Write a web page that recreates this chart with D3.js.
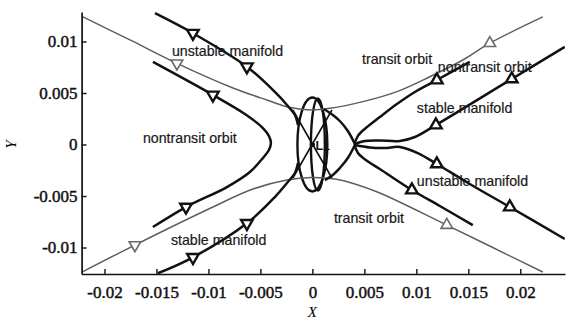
<!DOCTYPE html>
<html>
<head>
<meta charset="utf-8">
<script src="https://cdn.jsdelivr.net/npm/d3@7"></script>
<style>
  html, body { margin: 0; padding: 0; background: #fff; }
  svg { display: block; }
</style>
</head>
<body>
<svg id="chart" width="569" height="321"></svg>
<script>
// ---------- data (X, Y in normalized units) ----------
const xTicks = [-0.02, -0.015, -0.01, -0.005, 0, 0.005, 0.01, 0.015, 0.02];
const xTickLabels = ["-0.02", "-0.015", "-0.01", "-0.005", "0", "0.005", "0.01", "0.015", "0.02"];
const yTicks = [-0.01, -0.005, 0, 0.005, 0.01];
const yTickLabels = ["-0.01", "-0.005", "0", "0.005", "0.01"];

// transit orbits (gray)
const transitUpper = [[-0.02216,0.01243],[-0.01755,0.01015],[-0.01303,0.00788],[-0.00764,0.00549],[-0.00438,0.00432],[-0.00216,0.00359],[-0.00005,0.00335],[0.00168,0.00351],[0.00486,0.00416],[0.00813,0.00513],[0.01130,0.00658],[0.01447,0.00820],[0.01707,0.00983],[0.02216,0.01238]];
const transitLower = [[-0.02216,-0.01238],[-0.01707,-0.00976],[-0.00957,-0.00607],[-0.00572,-0.00432],[-0.00245,-0.00345],[-0.00005,-0.00320],[0.00216,-0.00335],[0.00409,-0.00383],[0.00649,-0.00471],[0.01293,-0.00782],[0.02216,-0.01238]];

// left side manifolds and nontransit orbit (black)
const unstableLeft = [[-0.01514,0.01274],[-0.01149,0.01080],[-0.00630,0.00755],[-0.00361,0.00510],[-0.00236,0.00374],[-0.00168,0.00286],[-0.00139,0.00189]];
const stableLeft = [[-0.01486,-0.01250],[-0.01149,-0.01095],[-0.00630,-0.00765],[-0.00361,-0.00510],[-0.00236,-0.00364],[-0.00168,-0.00277],[-0.00139,-0.00180]];
const nontransitLeft = [[-0.01534,0.00801],[-0.00957,0.00481],[-0.00649,0.00296],[-0.00476,0.00160],[-0.00418,0.00083],[-0.00399,0.00015],[-0.00418,-0.00053],[-0.00476,-0.00131],[-0.00601,-0.00267],[-0.00822,-0.00413],[-0.01216,-0.00607],[-0.01534,-0.00801]];

// right side
const nontransitRight = [[0.01514,0.00801],[0.01197,0.00626],[0.00986,0.00510],[0.00813,0.00393],[0.00649,0.00267],[0.00514,0.00160],[0.00438,0.00083],[0.00409,0.0],[0.00438,-0.00083],[0.00514,-0.00150],[0.00649,-0.00238],[0.00957,-0.00442],[0.01226,-0.00597],[0.01543,-0.00782]];
const stableRight = [[0.02428,0.00947],[0.01918,0.00636],[0.01188,0.00189],[0.00986,0.00073],[0.00841,0.00034],[0.00649,0.00039],[0.00505,0.00034],[0.00409,0.00005]];
const unstableRight = [[0.00409,-0.00005],[0.00553,-0.00029],[0.00697,-0.00034],[0.00841,-0.00024],[0.01014,-0.00083],[0.01197,-0.00189],[0.01514,-0.00383],[0.01899,-0.00607],[0.02428,-0.00917]];
const connectorUpper = [[0.00409,0.00005],[0.00341,0.00131],[0.00264,0.00228],[0.00197,0.00286],[0.00111,0.00345]];
const connectorLower = [[0.00409,-0.00005],[0.00341,-0.00131],[0.00264,-0.00228],[0.00197,-0.00296],[0.00120,-0.00345]];
const crossA = [[-0.00188,0.00335],[0.00188,-0.00325]];
const crossB = [[-0.00188,-0.00325],[0.00188,0.00335]];

// Lyapunov orbits around L1
const orbitCx = [0.0, 0.00053];
const orbitRx = [0.00144, 0.00067];
const orbitRy = [0.00456, 0.00447];

// arrow markers: X, Y, direction (+1 up / -1 down), gray flag
const markerX = [-0.01303,-0.01149,-0.00630,-0.00957,-0.01707,-0.01216,-0.01149,-0.00630, 0.01707,0.01197,0.01918,0.01188,0.00957,0.01197,0.01899,0.01293];
const markerY = [0.00788,0.01080,0.00755,0.00481,-0.00976,-0.00607,-0.01095,-0.00765, 0.00983,0.00626,0.00636,0.00189,-0.00442,-0.00189,-0.00607,-0.00782];
const markerDir = [-1,-1,-1,-1,-1,-1,-1,-1, 1,1,1,1,1,1,1,1];
const markerGray = [1,0,0,0,1,0,0,0, 1,0,0,0,0,0,0,1];

// annotations: text, X, Y(baseline)
const labelText = ["unstable manifold","transit orbit","nontransit orbit","stable manifold","nontransit orbit","unstable manifold","transit orbit","stable manifold"];
const labelX = [-0.01351,0.00477,0.01207,0.01005,-0.01630,0.01005,0.00207,-0.01361];
const labelY = [0.00859,0.00782,0.00704,0.00306,0.00015,-0.00403,-0.00762,-0.00976];

// ---------- drawing ----------
const svg = d3.select("#chart");
const W = 569, H = 321;
svg.append("rect").attr("width", W).attr("height", H).attr("fill", "#fff");

const x = d3.scaleLinear().domain([-0.0222, 0.0243]).range([81.6, 565]);
const y = d3.scaleLinear().domain([-0.01257, 0.01286]).range([274, 12]);

svg.append("clipPath").attr("id", "plot")
  .append("rect").attr("x", x.range()[0]).attr("y", y.range()[1])
  .attr("width", x.range()[1] - x.range()[0]).attr("height", y.range()[0] - y.range()[1]);

const g = svg.append("g").attr("clip-path", "url(#plot)");

const line = d3.line().x(d => x(d[0])).y(d => y(d[1])).curve(d3.curveCatmullRom.alpha(0.5));

const GRAY = "#5e5e5e";
const BLACK = "#111";

// ellipses (Lyapunov orbits)
orbitCx.forEach((cx, i) => {
  g.append("ellipse")
    .attr("cx", x(cx)).attr("cy", y(0))
    .attr("rx", x(cx + orbitRx[i]) - x(cx))
    .attr("ry", y(0) - y(orbitRy[i]))
    .attr("fill", "none").attr("stroke", BLACK).attr("stroke-width", 2.4);
});

// gray transit orbits
[transitUpper, transitLower].forEach(c => {
  g.append("path").attr("d", line(c)).attr("fill", "none")
    .attr("stroke", GRAY).attr("stroke-width", 1.5);
});

// black curves
[unstableLeft, stableLeft, nontransitLeft, nontransitRight, stableRight, unstableRight, connectorUpper, connectorLower].forEach(c => {
  g.append("path").attr("d", line(c)).attr("fill", "none")
    .attr("stroke", BLACK).attr("stroke-width", 2.5).attr("stroke-linejoin", "round");
});
[crossA, crossB].forEach(c => {
  g.append("path").attr("d", d3.line().x(d => x(d[0])).y(d => y(d[1]))(c)).attr("fill", "none")
    .attr("stroke", BLACK).attr("stroke-width", 1.6);
});

// L1 point
g.append("circle").attr("cx", x(0)).attr("cy", y(0)).attr("r", 2.6).attr("fill", BLACK);
svg.append("text").attr("x", x(0) + 3).attr("y", y(0) + 6)
  .attr("font-family", "Liberation Sans, Arial, sans-serif").attr("font-size", 12.5)
  .attr("font-weight", "bold").attr("fill", BLACK).text("L1");

// markers
const tri = d3.symbol().type(d3.symbolTriangle).size(58);
markerX.forEach((mx, i) => {
  const col = markerGray[i] ? "#6a6a6a" : BLACK;
  g.append("path").attr("d", tri())
    .attr("transform", `translate(${x(mx)},${y(markerY[i])}) rotate(${markerDir[i] > 0 ? 0 : 180})`)
    .attr("fill", "#fff").attr("stroke", col).attr("stroke-width", markerGray[i] ? 1.6 : 2.4);
});

// annotations
labelText.forEach((t, i) => {
  svg.append("text").attr("x", x(labelX[i])).attr("y", y(labelY[i]))
    .attr("font-family", "Liberation Sans, Arial, sans-serif").attr("font-size", 14.2)
    .attr("fill", "#1a1a1a").attr("stroke", "#1a1a1a").attr("stroke-width", 0.2).text(t);
});

// axes
const xAxis = d3.axisBottom(x).tickValues(xTicks).tickFormat((d, i) => xTickLabels[i])
  .tickSizeInner(-5).tickSizeOuter(0).tickPadding(12);
const yAxis = d3.axisLeft(y).tickValues(yTicks).tickFormat((d, i) => yTickLabels[i])
  .tickSizeInner(-5).tickSizeOuter(0).tickPadding(4);

const gx = svg.append("g").attr("transform", `translate(0,${y.range()[0]})`).call(xAxis);
const gy = svg.append("g").attr("transform", `translate(${x.range()[0]},0)`).call(yAxis);
[gx, gy].forEach(a => {
  a.select(".domain").attr("stroke", BLACK).attr("stroke-width", 1.7);
  a.selectAll(".tick line").attr("stroke", BLACK).attr("stroke-width", 1.4);
  a.selectAll(".tick text").attr("font-family", "Liberation Serif, Times New Roman, serif")
    .attr("font-size", 17).attr("fill", BLACK).attr("stroke", BLACK).attr("stroke-width", 0.45);
});

// axis titles
svg.append("text").attr("x", x(0)).attr("y", 317)
  .attr("text-anchor", "middle").attr("font-family", "Liberation Serif, Times New Roman, serif")
  .attr("font-style", "italic").attr("font-size", 15).text("X");
svg.append("text").attr("transform", `translate(16,${y(0)}) rotate(-90)`)
  .attr("text-anchor", "middle").attr("font-family", "Liberation Serif, Times New Roman, serif")
  .attr("font-style", "italic").attr("font-size", 15).text("Y");
</script>
</body>
</html>
